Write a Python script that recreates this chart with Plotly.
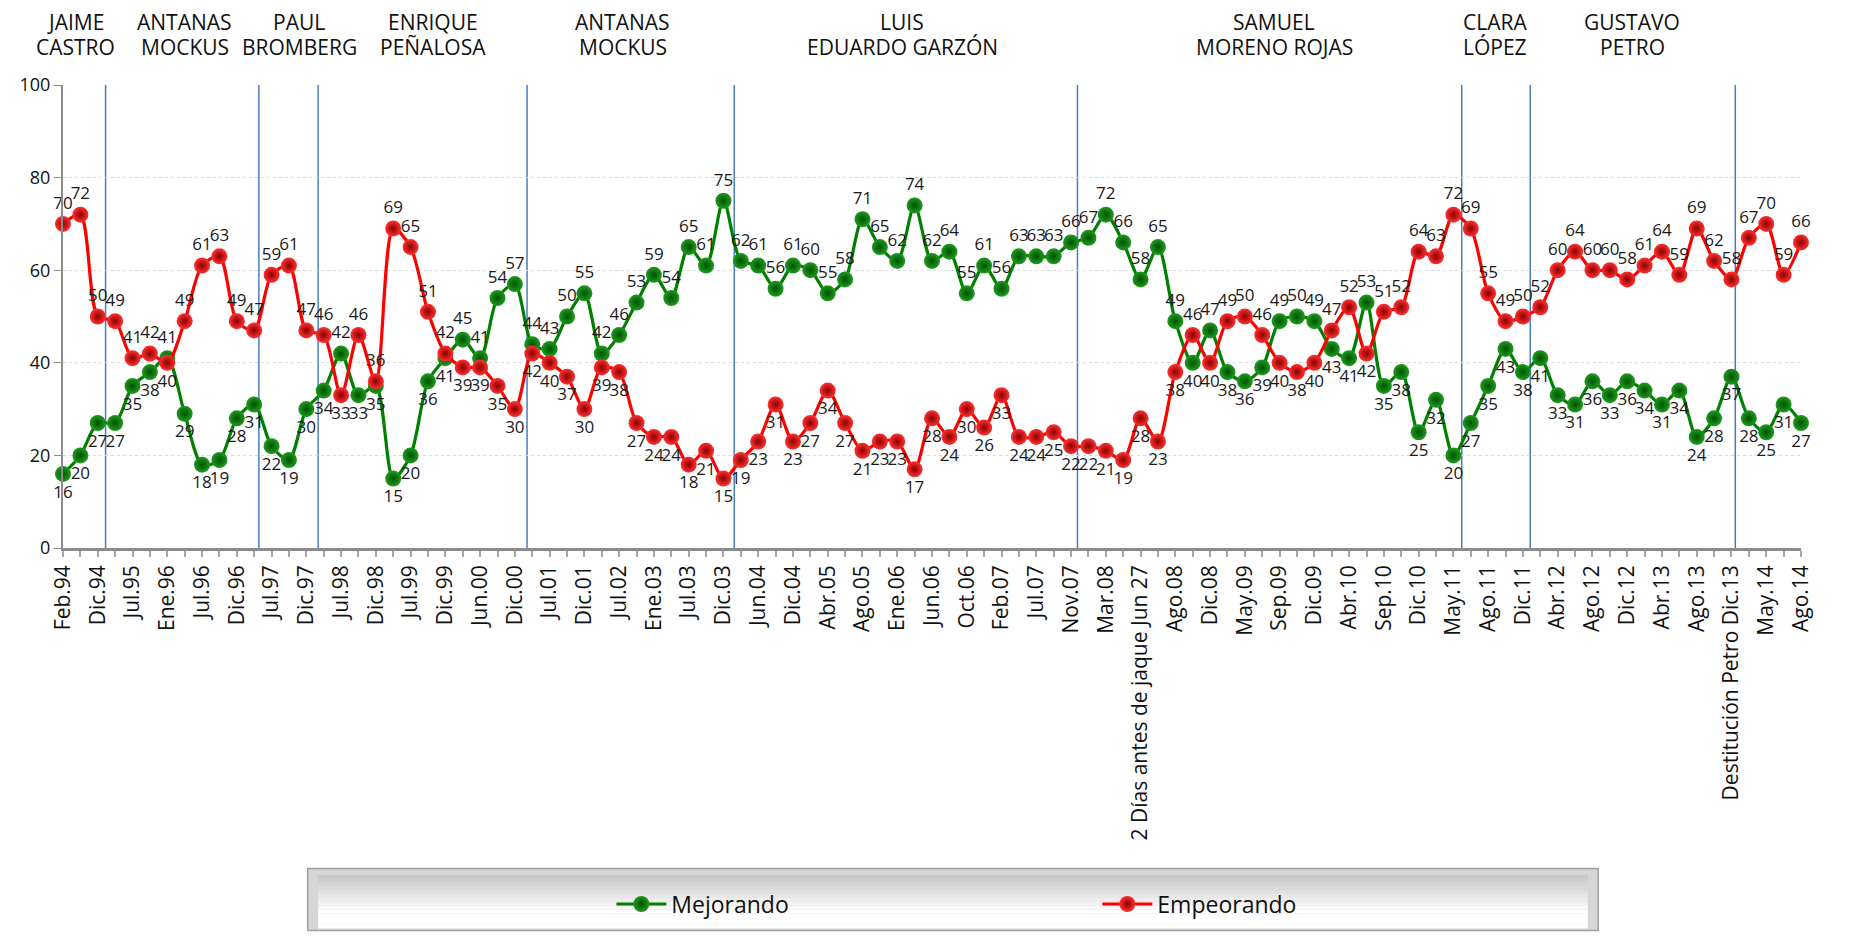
import plotly.graph_objects as go

# ---------------- data ----------------
periods = ["Feb.94", "Dic.94", "Jul.95", "Ene.96", "Jul.96", "Dic.96", "Jul.97", "Dic.97",
           "Jul.98", "Dic.98", "Jul.99", "Dic.99", "Jun.00", "Dic.00", "Jul.01", "Dic.01",
           "Jul.02", "Ene.03", "Jul.03", "Dic.03", "Jun.04", "Dic.04", "Abr.05", "Ago.05",
           "Ene.06", "Jun.06", "Oct.06", "Feb.07", "Jul.07", "Nov.07", "Mar.08",
           "2 Días antes de jaque Jun 27", "Ago.08", "Dic.08", "May.09", "Sep.09", "Dic.09",
           "Abr.10", "Sep.10", "Dic.10", "May.11", "Ago.11", "Dic.11", "Abr.12", "Ago.12",
           "Dic.12", "Abr.13", "Ago.13", "Destitución Petro Dic.13", "May.14", "Ago.14"]

mejorando = [16, 20, 27, 27, 35, 38, 41, 29, 18, 19, 28, 31, 22, 19, 30, 34, 42, 33, 35, 15,
             20, 36, 41, 45, 41, 54, 57, 44, 43, 50, 55, 42, 46, 53, 59, 54, 65, 61, 75, 62,
             61, 56, 61, 60, 55, 58, 71, 65, 62, 74, 62, 64, 55, 61, 56, 63, 63, 63, 66, 67,
             72, 66, 58, 65, 49, 40, 47, 38, 36, 39, 49, 50, 49, 43, 41, 53, 35, 38, 25, 32,
             20, 27, 35, 43, 38, 41, 33, 31, 36, 33, 36, 34, 31, 34, 24, 28, 37, 28, 25, 31, 27]

empeorando = [70, 72, 50, 49, 41, 42, 40, 49, 61, 63, 49, 47, 59, 61, 47, 46, 33, 46, 36, 69,
              65, 51, 42, 39, 39, 35, 30, 42, 40, 37, 30, 39, 38, 27, 24, 24, 18, 21, 15, 19,
              23, 31, 23, 27, 34, 27, 21, 23, 23, 17, 28, 24, 30, 26, 33, 24, 24, 25, 22, 22,
              21, 19, 28, 23, 38, 46, 40, 49, 50, 46, 40, 38, 40, 47, 52, 42, 51, 52, 64, 63,
              72, 69, 55, 49, 50, 52, 60, 64, 60, 60, 58, 61, 64, 59, 69, 62, 58, 67, 70, 59, 66]

mayor_first = ["JAIME", "ANTANAS", "PAUL", "ENRIQUE", "ANTANAS", "LUIS", "SAMUEL", "CLARA", "GUSTAVO"]
mayor_second = ["CASTRO", "MOCKUS", "BROMBERG", "PEÑALOSA", "MOCKUS", "EDUARDO GARZÓN",
                "MORENO ROJAS", "LÓPEZ", "PETRO"]
mayor_centers = [0.7, 7.0, 13.6, 21.3, 32.2, 48.3, 69.7, 82.4, 90.3]
term_breaks = [2.45, 11.27, 14.68, 26.7, 38.62, 58.37, 80.48, 84.42, 96.22]

# ---------------- build ----------------
FONT = "Open Sans"
x = list(range(len(mejorando)))
tickvals = x
ticktext = [periods[i // 2] if i % 2 == 0 else "" for i in x]

pos_m = ["top center" if m >= e else "bottom center" for m, e in zip(mejorando, empeorando)]
pos_e = ["top center" if e > m else "bottom center" for m, e in zip(mejorando, empeorando)]

fig = go.Figure()
fig.add_trace(go.Scatter(
    x=x, y=mejorando, name="Mejorando", mode="lines+markers+text",
    line=dict(color="#008000", width=3.2, shape="spline", smoothing=0.8),
    marker=dict(size=16, color="#1f9a1f", line=dict(width=0),
                gradient=dict(type="radial", color="#005200")),
    text=[str(v) for v in mejorando], textposition=pos_m,
    textfont=dict(size=17, color="#1a1a1a", family=FONT), cliponaxis=False))
fig.add_trace(go.Scatter(
    x=x, y=empeorando, name="Empeorando", mode="lines+markers+text",
    line=dict(color="#ff0000", width=3.2, shape="spline", smoothing=0.8),
    marker=dict(size=16, color="#ff3030", line=dict(width=0),
                gradient=dict(type="radial", color="#8a0000")),
    text=[str(v) for v in empeorando], textposition=pos_e,
    textfont=dict(size=17, color="#1a1a1a", family=FONT), cliponaxis=False))

shapes = []
for b in term_breaks:
    shapes.append(dict(type="line", xref="x", yref="y", x0=b, x1=b, y0=0, y1=100,
                       line=dict(color="#4A7EBB", width=1.5), layer="below"))

# legend frame (bevelled grey box)
lx0, lx1, ly0, ly1 = 0.1408, 0.8833, -0.826, -0.692
shapes.append(dict(type="rect", xref="paper", yref="paper", x0=lx0, x1=lx1, y0=ly0, y1=ly1,
                   fillcolor="#d6d6d6", line=dict(color="#a0a0a0", width=1.5), layer="below"))
n = 14
ix0, ix1 = lx0 + 0.006, lx1 - 0.006
iy0, iy1 = ly0 + 0.004, ly1 - 0.014
for i in range(n):
    t = i / (n - 1)
    g = int(200 + (254 - 200) * min(1.0, t * 1.5))
    c = f"rgb({g},{g},{g})"
    ya = iy1 - (iy1 - iy0) * i / n
    yb = iy1 - (iy1 - iy0) * (i + 1) / n
    shapes.append(dict(type="rect", xref="paper", yref="paper", x0=ix0, x1=ix1, y0=yb, y1=ya,
                       fillcolor=c, line=dict(width=0), layer="below"))

annotations = []
for first, second, cx in zip(mayor_first, mayor_second, mayor_centers):
    annotations.append(dict(x=cx, y=1.136, xref="x", yref="paper", text=first, showarrow=False,
                            xanchor="center", yanchor="middle", borderpad=0,
                            font=dict(size=21, color="#111111", family=FONT)))
    annotations.append(dict(x=cx, y=1.0825, xref="x", yref="paper", text=second, showarrow=False,
                            xanchor="center", yanchor="middle", borderpad=0,
                            font=dict(size=21, color="#111111", family=FONT)))

fig.update_layout(
    width=1833, height=929,
    margin=dict(l=53, r=40, t=77, b=385),
    paper_bgcolor="white", plot_bgcolor="white",
    font=dict(family=FONT, color="#111111"),
    showlegend=True,
    legend=dict(orientation="h", x=0.3155, y=-0.769, xanchor="left", yanchor="middle",
                bgcolor="rgba(0,0,0,0)", font=dict(size=23, family=FONT, color="#111111"),
                itemwidth=50, entrywidth=421, entrywidthmode="pixels"),
    shapes=shapes, annotations=annotations,
)
fig.update_xaxes(range=[0, 100], tickvals=tickvals, ticktext=ticktext, tickangle=-90,
                 showgrid=False, zeroline=False, showline=True, linecolor="#8c8c8c", linewidth=2.5,
                 ticks="outside", ticklen=6, tickcolor="#a6a6a6", tickwidth=1.5,
                 tickfont=dict(size=21, family=FONT, color="#111111"))
fig.update_yaxes(range=[0, 100], tickvals=[0, 20, 40, 60, 80, 100],
                 showgrid=True, gridcolor="#d9d9d9", griddash="dot", gridwidth=1,
                 zeroline=False, showline=True, linecolor="#8c8c8c", linewidth=2,
                 ticks="outside", ticklen=7, tickcolor="#8c8c8c",
                 tickfont=dict(size=18, family=FONT, color="#111111"))

fig.write_html("out.html")
